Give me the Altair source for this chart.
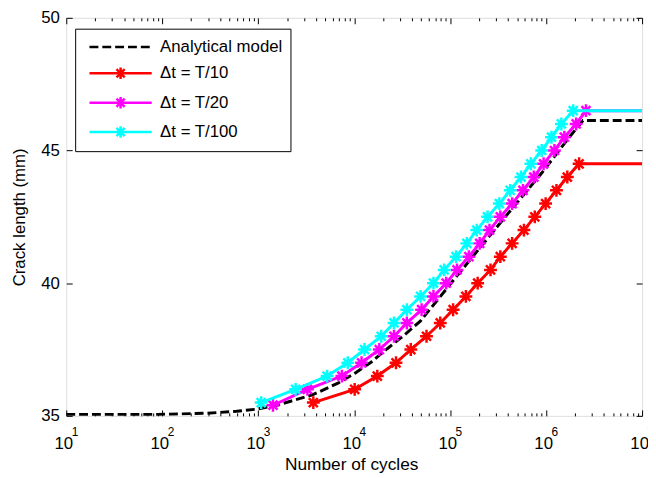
import altair as alt
import pandas as pd

FONT = "Liberation Sans"

series_names = ["Analytical model", "Δt = T/10", "Δt = T/20", "Δt = T/100"]
series_colors = ["#000000", "#ff0000", "#ff00ff", "#00ffff"]

# Analytical model (dashed black)
analytical_N = [10, 90, 293, 594, 953, 1642, 3664, 6773, 10120, 15110, 22070,
                32960, 49200, 135900, 375300, 899500, 1742000, 2425000, 10000000]
analytical_a = [35.05, 35.05, 35.1, 35.17, 35.25, 35.42, 35.79, 36.23, 36.6, 37.03, 37.53,
                38.03, 38.58, 40.55, 42.5, 44.15, 45.5, 46.13, 46.13]

# dt = T/10 (red)
t10_N = [3752, 10120, 17420, 27290, 38900, 56750, 78900, 107400, 145900, 193600,
         263400, 333400, 442600, 587500, 762100, 988600, 1282000, 1663000, 2207000, 10000000]
t10_a = [35.5, 36.0, 36.5, 37.0, 37.5, 38.0, 38.5, 39.0, 39.5, 40.0,
         40.5, 41.0, 41.5, 42.0, 42.5, 43.0, 43.5, 44.0, 44.5, 44.5]

# dt = T/20 (magenta)
t20_N = [1426, 3258, 7447, 11940, 18270, 26000, 35400, 50450, 67000, 91000, 118000,
         156700, 203200, 257000, 333400, 442600, 574100, 744700, 942000, 1222000,
         1549000, 2056000, 2602000, 10000000]
t20_a = [35.4, 36.0, 36.5, 37.0, 37.5, 38.0, 38.5, 39.0, 39.5, 40.0, 40.5,
         41.0, 41.5, 42.0, 42.5, 43.0, 43.5, 44.0, 44.5, 45.0,
         45.5, 46.0, 46.5, 46.5]

# dt = T/100 (cyan)
t100_N = [1074, 2455, 5224, 8577, 12823, 19144, 26014, 35400, 49200, 66990, 86700,
          115300, 149300, 189200, 245400, 325800, 422700, 547200, 693400, 899500,
          1137600, 1442000, 1914000, 10000000]
t100_a = [35.5, 36.0, 36.5, 37.0, 37.5, 38.0, 38.5, 39.0, 39.5, 40.0, 40.5,
          41.0, 41.5, 42.0, 42.5, 43.0, 43.5, 44.0, 44.5, 45.0,
          45.5, 46.0, 46.5, 46.5]

x_major_ticks = [10, 100, 1000, 10000, 100000, 1000000, 10000000]
x_minor_ticks = [m * 10 ** k for k in range(1, 7) for m in range(2, 10)]
y_ticks = [35, 40, 45, 50]

rows = []


def add(name, ns, avals, markers):
    for i, (n, a) in enumerate(zip(ns, avals)):
        rows.append({"series": name, "N": n, "a": a,
                     "marker": bool(markers and i < len(ns) - 1)})


add(series_names[0], analytical_N, analytical_a, False)
add(series_names[1], t10_N, t10_a, True)
add(series_names[2], t20_N, t20_a, True)
add(series_names[3], t100_N, t100_a, True)
df = pd.DataFrame(rows)

W, H = 583, 403

ASTERISK = "M-1,0L1,0M0,-1L0,1M-0.7,-0.7L0.7,0.7M-0.7,0.7L0.7,-0.7"
LEG_LINE = "M-3.5,0L3.5,0"
LEG_STAR = ("M-3.5,0L3.5,0M0,-0.65L0,0.65"
            "M-0.46,-0.46L0.46,0.46M-0.46,0.46L0.46,-0.46")

legend_def = alt.Legend(
    title=None, orient="none", legendX=9, legendY=11, padding=8,
    fillColor="white", strokeColor="black", cornerRadius=0,
    labelFont=FONT, labelFontSize=17, labelColor="black", labelOffset=29.5,
    labelLimit=400, symbolType=LEG_STAR, symbolSize=324, symbolStrokeWidth=2.5,
    symbolOffset=27.5, rowPadding=6.7,
)

color_enc = alt.Color("series:N", scale=alt.Scale(domain=series_names, range=series_colors),
                      legend=legend_def)
shape_enc = alt.Shape("series:N", scale=alt.Scale(domain=series_names,
                                                  range=[LEG_LINE, LEG_STAR, LEG_STAR, LEG_STAR]),
                      legend=legend_def)
dash_enc = alt.StrokeDash("series:N", scale=alt.Scale(domain=series_names,
                                                      range=[[9, 4], [1, 0], [1, 0], [1, 0]]),
                          legend=legend_def)

xs = alt.Scale(type="log", domain=[10, 10000000], nice=False)
ys = alt.Scale(domain=[35, 50], nice=False, zero=False)

tick_common = dict(labels=False, ticks=True, tickColor="black", tickWidth=1,
                   domain=False, grid=False, title=None)

ax_x_labels = alt.Axis(orient="bottom", values=x_major_ticks, labelExpr="'10'",
                       translate=7, ticks=False, tickSize=0, domain=False, grid=False,
                       labelFont=FONT, labelFontSize=17, labelColor="black",
                       labelBaseline="middle", labelPadding=22, labelAlign="right",
                       labelFlush=False, labelOverlap=False, labelBound=False,
                       title="Number of cycles", titleFont=FONT, titleFontSize=17.5,
                       titleFontWeight="normal", titleColor="black", titleX=282,
                       titleY=48, titleBaseline="alphabetic", titleAlign="center")
ax_x_exp = alt.Axis(orient="bottom", values=x_major_ticks,
                    labelExpr="'' + round(log(datum.value) / LN10)",
                    translate=5.5, ticks=False, tickSize=0, domain=False, grid=False,
                    labelFont=FONT, labelFontSize=12, labelColor="black",
                    labelBaseline="middle", labelPadding=11, labelAlign="left",
                    labelFlush=False, labelOverlap=False, labelBound=False, title=None)
ax_x_bot_major = alt.Axis(orient="top", offset=-H, values=x_major_ticks, tickSize=6, **tick_common)
ax_x_bot_minor = alt.Axis(orient="top", offset=-H, values=x_minor_ticks, tickSize=3, **tick_common)
ax_x_top_major = alt.Axis(orient="bottom", offset=-H, values=x_major_ticks, tickSize=6, **tick_common)
ax_x_top_minor = alt.Axis(orient="bottom", offset=-H, values=x_minor_ticks, tickSize=3, **tick_common)

ax_y_labels = alt.Axis(orient="left", values=y_ticks, ticks=False, tickSize=0, domain=False,
                       grid=False, labelFont=FONT, labelFontSize=17, labelColor="black",
                       labelPadding=7, title="Crack length (mm)", titleFont=FONT,
                       titleFontSize=17, titleFontWeight="normal", titleColor="black",
                       titleX=-47, titleY=H / 2, titleAngle=270, titleAlign="center",
                       titleBaseline="middle")
ax_y_left_ticks = alt.Axis(orient="right", offset=-W, values=y_ticks, tickSize=6, **tick_common)
ax_y_right_ticks = alt.Axis(orient="left", offset=-W, values=y_ticks, tickSize=6, **tick_common)

base = alt.Chart(df)


def enc(xaxis, yaxis):
    return dict(
        x=alt.X("N:Q", scale=xs, axis=xaxis),
        y=alt.Y("a:Q", scale=ys, axis=yaxis),
        color=color_enc,
        order=alt.Order("N:Q"),
    )


def line_layer(name, xaxis, yaxis, dash=None):
    kw = dict(strokeWidth=3, clip=True)
    if dash:
        kw["strokeDash"] = dash
    return base.transform_filter(alt.datum.series == name).mark_line(**kw).encode(**enc(xaxis, yaxis))


def point_layer(name, xaxis, yaxis):
    return (base.transform_filter((alt.datum.series == name) & alt.datum.marker)
            .mark_point(shape=ASTERISK, size=169, filled=False, strokeWidth=2.5, opacity=1)
            .encode(**enc(xaxis, yaxis)))


# empty layer that only carries the legend's per-entry symbol shape and dash
legend_layer = (base.transform_filter("false")
                .mark_point(filled=False, strokeWidth=2.5, opacity=1)
                .encode(x=alt.X("N:Q", scale=xs, axis=None),
                        y=alt.Y("a:Q", scale=ys, axis=None),
                        color=color_enc, shape=shape_enc, strokeDash=dash_enc))

layers = [
    line_layer(series_names[0], ax_x_labels, ax_y_labels, dash=[9, 4]),
    line_layer(series_names[1], ax_x_exp, ax_y_left_ticks),
    point_layer(series_names[1], ax_x_top_major, ax_y_right_ticks),
    line_layer(series_names[2], ax_x_bot_major, None),
    point_layer(series_names[2], ax_x_bot_minor, None),
    line_layer(series_names[3], ax_x_top_minor, None),
    point_layer(series_names[3], None, None),
    legend_layer,
]

chart = (
    alt.layer(*layers)
    .resolve_scale(x="independent", y="independent")
    .properties(width=W, height=H,
                autosize=alt.AutoSizeParams(type="none"),
                padding={"left": 59, "top": 7, "right": 6, "bottom": 62})
    .configure_view(stroke="black", strokeWidth=1)
    .configure(background="white")
)

chart.save("out.html", embed_options={"renderer": "svg", "actions": False})
